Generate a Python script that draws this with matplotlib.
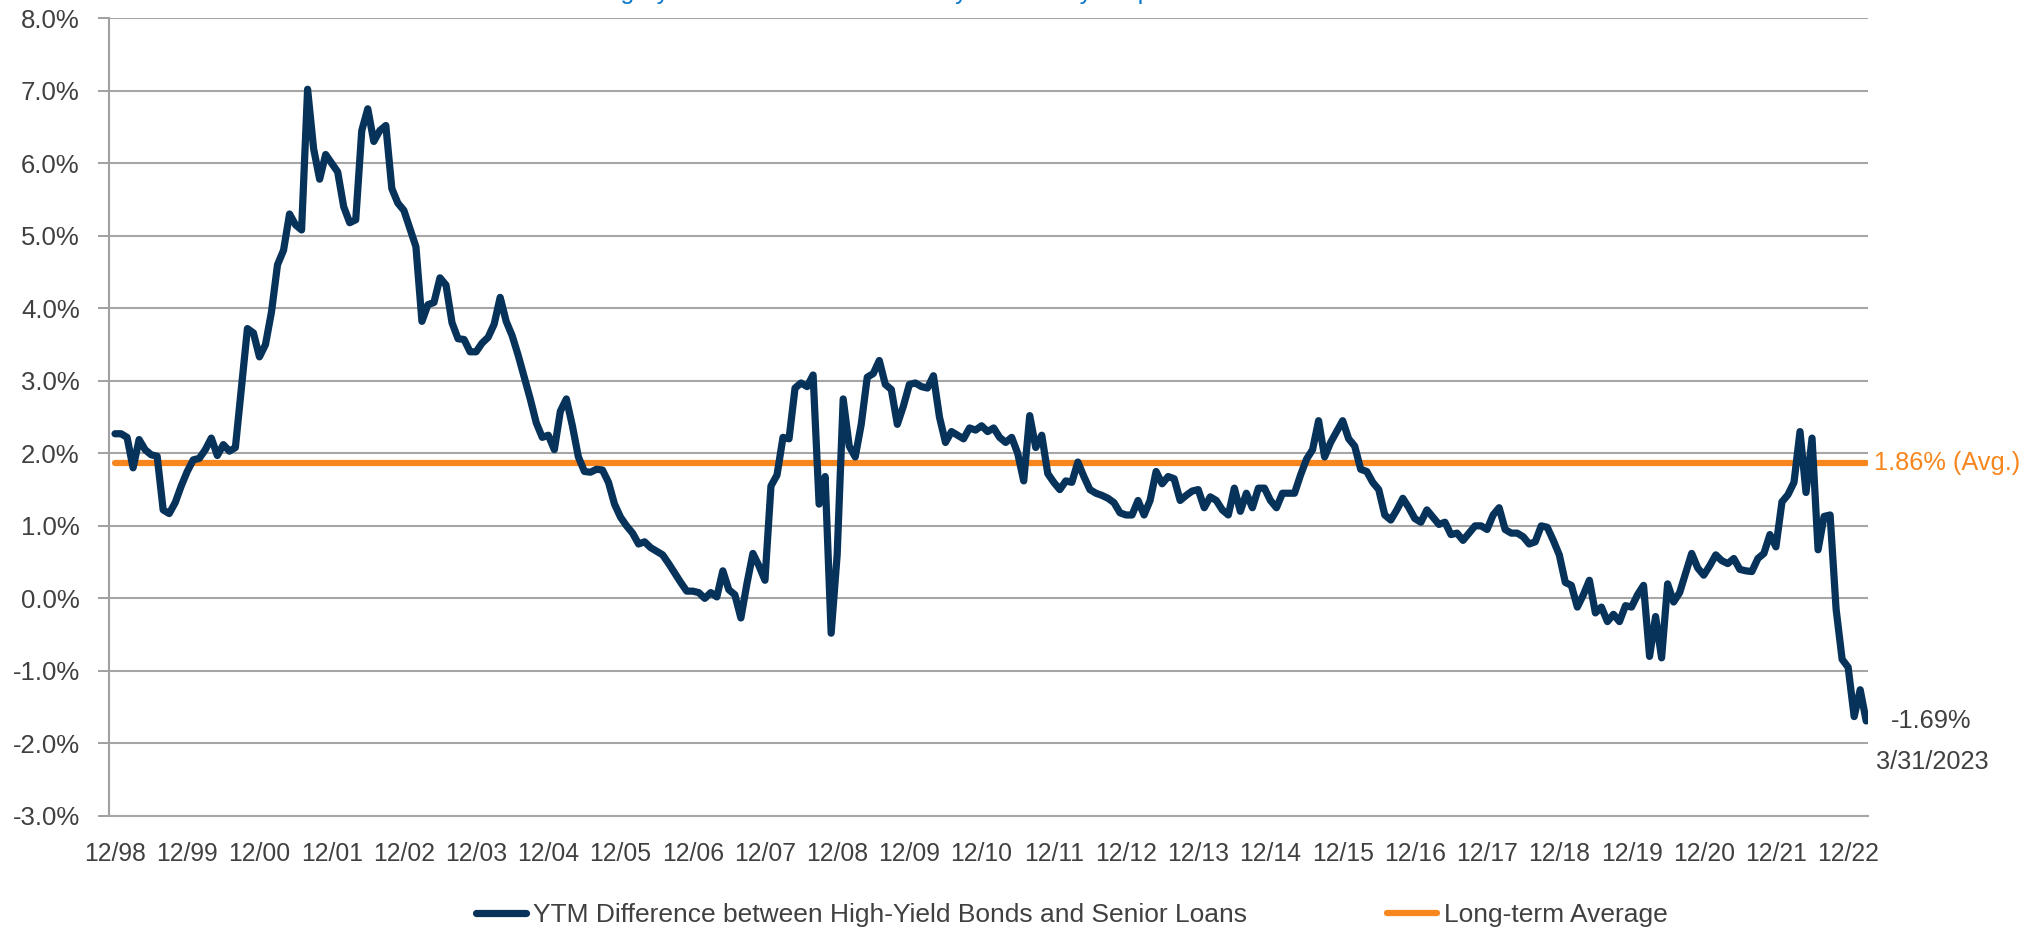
import numpy as np
import matplotlib.pyplot as plt

# YTM difference (%) between high-yield bonds and senior loans, monthly 12/1998 - 3/2023
spread_by_year = [
    [2.27, 2.27, 2.22, 1.80, 2.19, 2.05, 1.98, 1.96, 1.22, 1.17, 1.32, 1.55],   # 12/98
    [1.75, 1.91, 1.93, 2.05, 2.21, 1.97, 2.12, 2.03, 2.08, 2.90, 3.72, 3.66],   # 12/99
    [3.33, 3.50, 3.95, 4.60, 4.80, 5.30, 5.15, 5.08, 7.02, 6.20, 5.78, 6.12],   # 12/00
    [6.00, 5.88, 5.40, 5.18, 5.22, 6.45, 6.75, 6.30, 6.45, 6.52, 5.65, 5.45],   # 12/01
    [5.35, 5.10, 4.85, 3.82, 4.05, 4.08, 4.42, 4.32, 3.80, 3.58, 3.57, 3.40],   # 12/02
    [3.40, 3.52, 3.60, 3.78, 4.15, 3.82, 3.62, 3.35, 3.05, 2.75, 2.42, 2.22],   # 12/03
    [2.25, 2.05, 2.58, 2.75, 2.38, 1.95, 1.75, 1.74, 1.78, 1.77, 1.60, 1.30],   # 12/04
    [1.12, 1.00, 0.90, 0.75, 0.78, 0.70, 0.65, 0.60, 0.48, 0.35, 0.22, 0.10],   # 12/05
    [0.10, 0.08, 0.00, 0.08, 0.02, 0.38, 0.12, 0.05, -0.27, 0.20, 0.62, 0.45],  # 12/06
    [0.25, 1.55, 1.70, 2.22, 2.20, 2.90, 2.97, 2.92, 3.08, 1.30, 1.68, -0.48],  # 12/07
    [0.60, 2.75, 2.10, 1.95, 2.40, 3.05, 3.10, 3.28, 2.95, 2.88, 2.40, 2.65],   # 12/08
    [2.95, 2.97, 2.92, 2.90, 3.07, 2.50, 2.15, 2.30, 2.25, 2.20, 2.35, 2.32],   # 12/09
    [2.38, 2.30, 2.35, 2.22, 2.15, 2.22, 2.00, 1.62, 2.52, 2.08, 2.25, 1.72],   # 12/10
    [1.60, 1.50, 1.62, 1.60, 1.88, 1.68, 1.50, 1.45, 1.42, 1.38, 1.32, 1.18],   # 12/11
    [1.15, 1.15, 1.35, 1.15, 1.35, 1.75, 1.58, 1.68, 1.65, 1.35, 1.42, 1.48],   # 12/12
    [1.50, 1.25, 1.40, 1.35, 1.22, 1.15, 1.52, 1.20, 1.45, 1.25, 1.52, 1.52],   # 12/13
    [1.35, 1.25, 1.45, 1.45, 1.45, 1.70, 1.92, 2.05, 2.45, 1.95, 2.15, 2.30],   # 12/14
    [2.45, 2.20, 2.10, 1.78, 1.75, 1.60, 1.50, 1.15, 1.08, 1.22, 1.38, 1.25],   # 12/15
    [1.10, 1.05, 1.22, 1.12, 1.02, 1.05, 0.88, 0.90, 0.80, 0.90, 1.00, 1.00],   # 12/16
    [0.95, 1.15, 1.25, 0.95, 0.90, 0.90, 0.85, 0.75, 0.78, 1.00, 0.98, 0.80],   # 12/17
    [0.60, 0.22, 0.18, -0.12, 0.05, 0.25, -0.20, -0.12, -0.32, -0.22, -0.32, -0.10],  # 12/18
    [-0.12, 0.05, 0.18, -0.80, -0.25, -0.82, 0.20, -0.05, 0.08, 0.35, 0.62, 0.42],    # 12/19
    [0.32, 0.45, 0.60, 0.52, 0.48, 0.55, 0.40, 0.38, 0.37, 0.55, 0.62, 0.88],   # 12/20
    [0.71, 1.33, 1.43, 1.60, 2.30, 1.46, 2.21, 0.67, 1.13, 1.15, -0.15, -0.84], # 12/21
    [-0.95, -1.63, -1.26, -1.69],                                               # 12/22 - 3/23
]
spread = [v for yr in spread_by_year for v in yr]
avg_spread = 1.86

year_labels = ['12/98', '12/99', '12/00', '12/01', '12/02', '12/03', '12/04', '12/05',
               '12/06', '12/07', '12/08', '12/09', '12/10', '12/11', '12/12', '12/13',
               '12/14', '12/15', '12/16', '12/17', '12/18', '12/19', '12/20', '12/21', '12/22']
last_date = '3/31/2023'

months = np.arange(len(spread))
navy = '#07325a'
orange = '#f7861f'
grey_txt = '#404040'
plt.rcParams['font.family'] = ['Liberation Sans', 'DejaVu Sans']

fig = plt.figure(figsize=(20.3, 9.32), dpi=100)
ax = fig.add_axes([0.0537, 0.1245, 0.8665, 0.856])

ax.plot(months, spread, color=navy, lw=5.2, solid_joinstyle='round', solid_capstyle='round',
        label='YTM Difference between High-Yield Bonds and Senior Loans', zorder=3)
ax.plot(months, [avg_spread] * len(months), color=orange, lw=4.5, solid_capstyle='round',
        label='Long-term Average', zorder=2)

ax.set_ylim(-3, 8)
ax.set_xlim(-1.0, 291.3)
ax.set_yticks(np.arange(-3, 9, 1))
ax.set_yticklabels([f'{v:.1f}%' for v in np.arange(-3, 9, 1)], fontsize=18.5, color=grey_txt)
ax.set_xticks(np.arange(0, 12 * len(year_labels), 12))
ax.set_xticklabels(year_labels, fontsize=17.8, color=grey_txt)
ax.tick_params(axis='x', length=0, pad=19)
ax.tick_params(axis='y', length=8, width=1.4, color='#a0a0a0', pad=13, direction='out')

ax.grid(axis='y', color='#a6a6a6', lw=1.5)
ax.set_axisbelow(True)
for s in ['top', 'right']:
    ax.spines[s].set_visible(False)
ax.spines['left'].set_color('#a0a0a0')
ax.spines['left'].set_linewidth(1.5)
ax.spines['bottom'].set_color('#a6a6a6')
ax.spines['bottom'].set_linewidth(1.5)

# right-hand annotations
ax.annotate(f'{avg_spread:.2f}% (Avg.)', xy=(months[-1], avg_spread), xytext=(8, 0),
            textcoords='offset pixels', va='center', ha='left', fontsize=18.3,
            color=orange, annotation_clip=False)
ax.annotate(f'{spread[-1]:.2f}%', xy=(months[-1], spread[-1]), xytext=(65, 0),
            textcoords='offset pixels', va='center', ha='center', fontsize=18.3,
            color=grey_txt, annotation_clip=False)
ax.annotate(last_date, xy=(months[-1], spread[-1]), xytext=(66, -41),
            textcoords='offset pixels', va='center', ha='center', fontsize=18.3,
            color=grey_txt, annotation_clip=False)

# title sits above the top edge
fig.text(0.5, 1.0 + 1.0 / 932, 'High-yield bonds have historically offered a yield premium over senior loans',
         ha='center', va='baseline', fontsize=18, color='#0a78c8')

leg = fig.legend(loc='center', bbox_to_anchor=(0.528, 0.018), ncol=2, frameon=False,
                 handlelength=1.9, handletextpad=0.27, columnspacing=5.3,
                 prop={'size': 19})
for t in leg.get_texts():
    t.set_color(grey_txt)

fig.savefig('out.png', dpi=100)
